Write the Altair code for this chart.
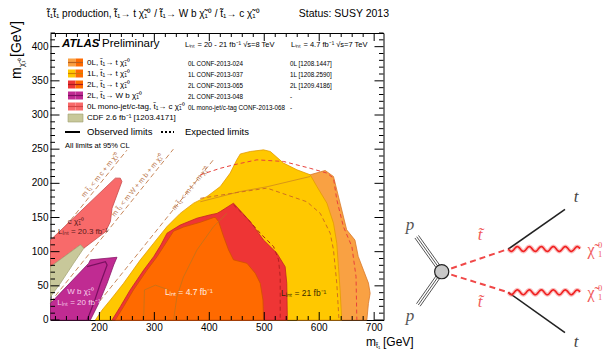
import altair as alt
import pandas as pd
import numpy as np

FONT = "Liberation Sans"
SERIF = "Liberation Serif"
W, H = 333, 287
X0, Y0 = 50.5, 33.0          # plot origin on the page
XD = [111, 717]
YD = [0, 420]

# ---------------- colours ----------------
C_0L = "#F9A143"
C_1L = "#FFC800"
C_2L = "#EE3535"
C_7TEV = "#FF6A00"
C_WB = "#C02B92"
C_MJ = "#F86A6A"
C_CDF = "#C8C89A"

# ---------------- excluded regions (GeV) ----------------
lo_x = [560, 583.6, 610.9, 626, 638, 650, 665, 671, 680.5, 689.6, 692.7, 689.6, 686.7, 560]
lo_y = [205, 212.5, 218.8, 210, 171, 132, 117, 93, 73, 54, 39, 24.5, 0, 0]

yl_x = [192.7, 205, 220, 244, 274.5, 298.7, 323, 347, 371.5, 395.8, 420, 438, 450, 456.4, 474.5,
        498.7, 511, 535, 559.5, 583.6, 595.8, 614, 626, 632, 635, 638, 641]
yl_y = [0, 14.7, 29.3, 53.7, 88, 112.4, 136.7, 156, 171, 180.7, 195.3, 215, 234.4, 243, 246.6,
        249, 246.6, 229.6, 219.8, 212.5, 195.3, 171, 141.7, 112.4, 78, 44, 0]

rd_x = [223, 238, 256, 280.5, 298.7, 312, 323, 347, 377.6, 402, 414, 420, 444, 474.5, 498.7, 523, 538, 541, 542]
rd_y = [0, 19.5, 44, 73, 92.7, 110, 127, 139, 149, 154, 156, 158.7, 171, 144, 117, 97.7, 78, 53.7, 0]

or_x = [229, 244, 262, 286.7, 305, 335, 353, 383.6, 408, 411, 417, 426, 435, 444, 468.5, 483.6, 492.7, 497.6, 498.7]
or_y = [0, 19.5, 44, 73, 92.7, 130, 136, 143, 150, 150, 144, 122, 102.6, 88, 83, 68.4, 53.7, 29.3, 0]

pu_x = [111, 180.5, 183.6, 232, 226, 214, 198.7, 183.6, 111]
pu_y = [24.4, 83, 88, 91.8, 80.6, 53.7, 24.4, 0, 0]
pu_in_x = [177.6, 211, 214, 201.8, 189.6, 177.6]
pu_in_y = [78, 85.4, 80.6, 53.7, 24.4, 0]

sa_x = [111, 229, 238, 241, 223, 220, 211, 171.5, 165.5, 111]
sa_y = [117, 207.6, 207.6, 202.6, 163.6, 144, 129, 105, 110, 78]

kh_x = [111, 165.5, 171.5, 153, 129, 111]
kh_y = [78, 110, 105, 83, 53.7, 34]

# expected limits (dashed)
e0_x = [383.6, 420, 444, 486.7, 535, 583.6, 614, 626, 632, 644, 659.5, 667, 668.5]
e0_y = [212.5, 222, 227, 234.4, 232, 222, 215, 207.6, 176, 136.7, 107.4, 63.4, 0]
e1_x = [383.6, 450, 505, 577.6, 602, 620, 626, 632, 636]
e1_y = [178, 186.5, 193, 173, 156, 127, 102.6, 53.7, 0]
e2_x = [444, 468.5, 492.7, 517, 526, 529, 529]
e2_y = [168.5, 149, 127, 107.4, 88, 63.4, 0]
# observed 7 TeV / other thin contours
o1_x = [335, 341, 353, 377.6, 407.8, 432]
o1_y = [0, 34, 63, 102.6, 136.7, 156]
o2_x = [280.5, 282, 302, 326]
o2_y = [0, 44, 51, 44]
o3_x = [383.6, 456, 505, 583.6]
o3_y = [173, 188, 195, 210]

# kinematic limits m_stop = m + m_chi
kc_x = [111, 250]; kc_y = [109.5, 248.5]
kw_x = [111, 334.6]; kw_y = [26.4, 250]
kt_x = [173, 408]; kt_y = [0, 235]

x_major = [200, 300, 400, 500, 600, 700]
y_major = [0, 50, 100, 150, 200, 250, 300, 350, 400]
x_minor = [v for v in range(120, 717, 20) if v % 100 != 0]
y_minor = [v for v in range(10, 421, 10) if v % 50 != 0]

xs = alt.Scale(domain=XD, nice=False, zero=False)
ys = alt.Scale(domain=YD, nice=False, zero=False)
dummy = pd.DataFrame({"d": [0]})


def enc_xy():
    return dict(x=alt.X("x:Q", scale=xs, axis=None), y=alt.Y("y:Q", scale=ys, axis=None))


def poly(px, py, fill, stroke, sw=0.8):
    px = list(px) + [px[0]]
    py = list(py) + [py[0]]
    df = pd.DataFrame({"x": px, "y": py, "i": range(len(px))})
    return alt.Chart(df).mark_line(fill=fill, stroke=stroke, strokeWidth=sw).encode(
        order="i:Q", **enc_xy())


def pline(px, py, color, width=1.0, dash=None, opacity=1.0):
    df = pd.DataFrame({"x": px, "y": py, "i": range(len(px))})
    kw = dict(color=color, strokeWidth=width, opacity=opacity)
    if dash:
        kw["strokeDash"] = dash
    return alt.Chart(df).mark_line(**kw).encode(order="i:Q", **enc_xy())


def T(s, px, py, size=9, color="black", align="left", baseline="middle", font=FONT,
      style="normal", weight="normal", angle=None):
    kw = dict(text=s, align=align, baseline=baseline, fontSize=size, font=font,
              fontStyle=style, fontWeight=weight, color=color)
    if angle is not None:
        kw["angle"] = angle
    return alt.Chart(dummy).mark_text(**kw).encode(x=alt.value(px - X0), y=alt.value(py - Y0))


def TD(s, x, y, size=8, color="black", align="center", angle=None, font=FONT):
    df = pd.DataFrame({"x": [x], "y": [y]})
    kw = dict(text=s, align=align, baseline="middle", fontSize=size, font=font, color=color)
    if angle is not None:
        kw["angle"] = angle
    return alt.Chart(df).mark_text(**kw).encode(**enc_xy())


def R(x1, x2, y1, y2, fill, stroke=None):
    kw = dict(fill=fill)
    if stroke:
        kw["stroke"] = stroke
        kw["strokeWidth"] = 0.6
    return alt.Chart(dummy).mark_rect(**kw).encode(
        x=alt.value(x1 - X0), x2=alt.value(x2 - X0), y=alt.value(y1 - Y0), y2=alt.value(y2 - Y0))


def HL(x1, x2, y, color, width=1.0, dash=None):
    kw = dict(color=color, strokeWidth=width)
    if dash:
        kw["strokeDash"] = dash
    return alt.Chart(dummy).mark_rule(**kw).encode(
        x=alt.value(x1 - X0), x2=alt.value(x2 - X0), y=alt.value(y - Y0))


layers = []

# kinematic lines (under the regions)
for kx, ky in [(kc_x, kc_y), (kw_x, kw_y), (kt_x, kt_y)]:
    layers.append(pline(kx, ky, "#C8875A", 1.0, [5, 3]))

# regions
layers.append(poly(lo_x, lo_y, C_0L, "#D9782A"))
layers.append(poly(yl_x, yl_y, C_1L, "#E39A00"))
layers.append(poly(rd_x, rd_y, C_2L, "#C42525"))
layers.append(poly(or_x, or_y, C_7TEV, "#D05000"))
layers.append(poly(sa_x, sa_y, C_MJ, "#C84A4A"))
layers.append(poly(kh_x, kh_y, C_CDF, "#A8A878"))
layers.append(poly(pu_x, pu_y, C_WB, "#8A1A6A"))
layers.append(pline(pu_in_x, pu_in_y, "#7A1060", 1.2))

# thin observed / expected contours
layers.append(pline(o1_x, o1_y, "#B8741E", 0.7))
layers.append(pline(o2_x, o2_y, "#B8741E", 0.7))
layers.append(pline(o3_x, o3_y, "#C88020", 0.7))
layers.append(pline(e0_x, e0_y, "#E8413C", 1.0, [4, 3]))
layers.append(pline(e1_x, e1_y, "#D07020", 1.0, [4, 3]))
layers.append(pline(e2_x, e2_y, "#B52020", 1.0, [4, 3]))

# labels in the plane
KC = "#B87448"
layers.append(TD("m t̃₁ < m c + m χ̃₁⁰", 201.8, 212, 7, KC, angle=309))
layers.append(TD("m t̃₁ < m W + m b + m χ̃₁⁰", 269.6, 197, 7, KC, angle=309))
layers.append(TD("m t̃₁ < m t + m χ̃₁⁰", 365.5, 192, 7, KC, angle=309))
layers.append(TD("c χ̃₁⁰", 157, 144, 8, "#5A1A1A"))
layers.append(TD("Lᵢₙₜ = 20.3 fb⁻¹", 170, 129, 8, "#5A1A1A"))
layers.append(TD("W b χ̃₁⁰", 165.5, 41.5, 8, "#F8D0EC"))
layers.append(TD("Lᵢₙₜ = 20 fb⁻¹", 162.7, 25, 8, "#F8D0EC"))
layers.append(TD("Lᵢₙₜ = 4.7 fb⁻¹", 362.7, 41.5, 8.5, "#FFF0E0"))
layers.append(TD("Lᵢₙₜ = 21 fb⁻¹", 571.8, 39.5, 8.5, "#3A2A00"))

# inward ticks
for vals, ln in [(y_major, 9), (y_minor, 4.5)]:
    df = pd.DataFrame({"v": vals})
    layers.append(alt.Chart(df).mark_rule(color="black", strokeWidth=1).encode(
        y=alt.Y("v:Q", scale=ys, axis=None), x=alt.value(0), x2=alt.value(ln)))
    layers.append(alt.Chart(df).mark_rule(color="black", strokeWidth=1).encode(
        y=alt.Y("v:Q", scale=ys, axis=None), x=alt.value(W), x2=alt.value(W - ln)))
for vals, ln in [(x_major, 8), (x_minor, 4)]:
    df = pd.DataFrame({"v": vals})
    layers.append(alt.Chart(df).mark_rule(color="black", strokeWidth=1).encode(
        x=alt.X("v:Q", scale=xs, axis=None), y=alt.value(H), y2=alt.value(H - ln)))
    layers.append(alt.Chart(df).mark_rule(color="black", strokeWidth=1).encode(
        x=alt.X("v:Q", scale=xs, axis=None), y=alt.value(0), y2=alt.value(ln)))

# tick labels through the scales
layers.append(alt.Chart(pd.DataFrame({"v": x_major})).mark_text(
    font=FONT, fontSize=10, baseline="top", align="center", color="black").encode(
    x=alt.X("v:Q", scale=xs, axis=None), y=alt.value(H + 3), text="v:Q"))
layers.append(alt.Chart(pd.DataFrame({"v": y_major})).mark_text(
    font=FONT, fontSize=10, baseline="middle", align="right", color="black").encode(
    y=alt.Y("v:Q", scale=ys, axis=None), x=alt.value(-2), text="v:Q"))

# ---------------- header / titles ----------------
layers.append(T("t̃₁t̃₁ production, t̃₁→ t χ̃₁⁰ / t̃₁→ W b χ̃₁⁰ / t̃₁→ c χ̃₁⁰", 47, 14, 10))
layers.append(T("Status: SUSY 2013", 389, 14, 10.5, align="right"))
layers.append(T("ATLAS", 62, 44, 11.5, style="italic", weight="bold"))
layers.append(T("Preliminary", 102, 44, 11.5))
layers.append(T("Lᵢₙₜ = 20 - 21 fb⁻¹ √s=8 TeV", 185, 45, 7.5))
layers.append(T("Lᵢₙₜ = 4.7 fb⁻¹ √s=7 TeV", 291, 45, 7.5))

# y title (rotated)
layers.append(T("m", 17, 79, 14, angle=270, baseline="middle"))
layers.append(T("χ̃₁⁰", 21.5, 67, 7.5, angle=270, baseline="middle"))
layers.append(T("[GeV]", 17, 57, 14, angle=270, baseline="middle"))
# x title
layers.append(T("m", 366, 342, 12))
layers.append(T("t̃₁", 376, 346, 7))
layers.append(T("[GeV]", 383, 342, 12))

# ---------------- legend ----------------
rows = [62.5, 73.5, 84.5, 95.5, 106.5, 118]
sw_l, sw_m, sw_r = 68, 75.5, 83
sw = [(C_0L, C_7TEV, "#B8601E"), (C_1L, C_7TEV, "#D08000"), (C_2L, C_7TEV, "#A81C1C"),
      (C_WB, C_WB, "#7A1060"), (C_MJ, C_MJ, "#D04545")]
for r, (cl, cr, cline) in zip(rows, sw):
    layers.append(R(sw_l, sw_m, r - 4, r + 4, cl))
    layers.append(R(sw_m, sw_r, r - 4, r + 4, cr))
    layers.append(HL(sw_l, sw_r, r, cline, 1.2))
layers.append(R(sw_l, sw_r, rows[5] - 4, rows[5] + 4, C_CDF, "#A0A070"))

leg_lab = ["0L, t̃₁→ t χ̃₁⁰", "1L, t̃₁→ t χ̃₁⁰", "2L, t̃₁→ t χ̃₁⁰", "2L, t̃₁→ W b χ̃₁⁰",
           "0L mono-jet/c-tag, t̃₁→ c χ̃₁⁰", "CDF 2.6 fb⁻¹ [1203.4171]"]
for r, s in zip(rows, leg_lab):
    layers.append(T(s, 87, r, 8))
col2 = ["0L CONF-2013-024", "1L CONF-2013-037", "2L CONF-2013-065", "2L CONF-2013-048",
        "0L mono-jet/c-tag CONF-2013-068"]
col3 = ["0L [1208.1447]", "1L [1208.2590]", "2L [1209.4186]", "-", "-"]
for r, s in zip(rows, col2):
    layers.append(T(s, 188, r + 1, 6.3))
for r, s in zip(rows, col3):
    layers.append(T(s, 290, r + 1, 6.3))

layers.append(HL(65, 80, 132, "black", 2))
layers.append(T("Observed limits", 87, 132, 9.5))
layers.append(HL(161, 174, 132, "black", 2, [2, 2]))
layers.append(T("Expected limits", 185, 132, 9.5))
layers.append(T("All limits at 95% CL", 65, 146, 7.5))

# ---------------- Feynman diagram (page pixels) ----------------
blob = (441.7, 271.7)
p_up = (416.7, 236.7)
p_dn = (418.3, 305.0)
v_up = (508.3, 249.0)
v_dn = (508.3, 292.3)
t_up = (565.0, 209.3)
t_dn = (565.0, 332.7)
w_end = 580.0


def dline(pts, color, width=1.0, dash=None, opacity=1.0):
    df = pd.DataFrame({"x": [p[0] - X0 for p in pts], "y": [p[1] - Y0 for p in pts],
                       "i": range(len(pts))})
    kw = dict(color=color, strokeWidth=width, opacity=opacity)
    if dash:
        kw["strokeDash"] = dash
    return alt.Chart(df).mark_line(**kw).encode(
        x=alt.X("x:Q", scale=None, axis=None), y=alt.Y("y:Q", scale=None, axis=None), order="i:Q")


# proton triple lines
for end in (p_up, p_dn):
    d = np.array(end) - np.array(blob)
    n = np.array([-d[1], d[0]]) / np.hypot(*d)
    for k in (-2.2, 0, 2.2):
        a = np.array(blob) + n * k
        b = np.array(end) + n * k
        layers.append(dline([tuple(a), tuple(b)], "#555555", 1.0))
# stops
layers.append(dline([blob, v_up], "#F04848", 2.0, [6, 4]))
layers.append(dline([blob, v_dn], "#F04848", 2.0, [6, 4]))
# tops
layers.append(dline([v_up, t_up], "#222222", 1.6))
layers.append(dline([v_dn, t_dn], "#222222", 1.6))
# neutralinos (wavy)
wx = np.linspace(v_up[0], w_end, 120)
for vy in (v_up[1], v_dn[1]):
    wy = vy + 2.4 * np.sin(2 * np.pi * (wx - wx[0]) / 12.0)
    pts = list(zip(wx, wy))
    layers.append(dline(pts, "#F47070", 4.0, opacity=0.45))
    layers.append(dline(pts, "#F02020", 1.6))
# blob
layers.append(alt.Chart(dummy).mark_point(shape="circle", size=200, filled=True, fill="#C8C8C8",
                                          stroke="#222222", strokeWidth=1.2, opacity=1).encode(
    x=alt.value(blob[0] - X0), y=alt.value(blob[1] - Y0)))
# diagram labels
layers.append(T("p", 410, 225, 17, "#555555", "center", font=SERIF, style="italic"))
layers.append(T("p", 410, 316, 17, "#555555", "center", font=SERIF, style="italic"))
layers.append(T("t̃", 480, 235, 17, "#F05A5A", "center", font=SERIF, style="italic"))
layers.append(T("t̃", 480, 302, 17, "#F05A5A", "center", font=SERIF, style="italic"))
layers.append(T("t", 576, 197, 17, "#444444", "center", font=SERIF, style="italic"))
layers.append(T("t", 576, 342, 17, "#444444", "center", font=SERIF, style="italic"))
for vy in (v_up[1], v_dn[1]):
    layers.append(T("χ̃", 591, vy + 1, 16, "#F05A5A", "center", font=SERIF))
    layers.append(T("0", 598, vy - 4.5, 8.5, "#F05A5A", font=SERIF))
    layers.append(T("1", 598, vy + 5, 8.5, "#F05A5A", font=SERIF))

chart = alt.layer(*layers).properties(
    width=W, height=H,
    padding={"left": X0 - 8, "top": Y0 - 8, "right": 613 - 16 - (X0 - 8) - W, "bottom": 359 - 16 - (Y0 - 8) - H},
    autosize=alt.AutoSizeParams(type="none"),
).configure_view(stroke="black", strokeWidth=1)

chart.save("out.html", embed_options={"renderer": "svg", "actions": False})
